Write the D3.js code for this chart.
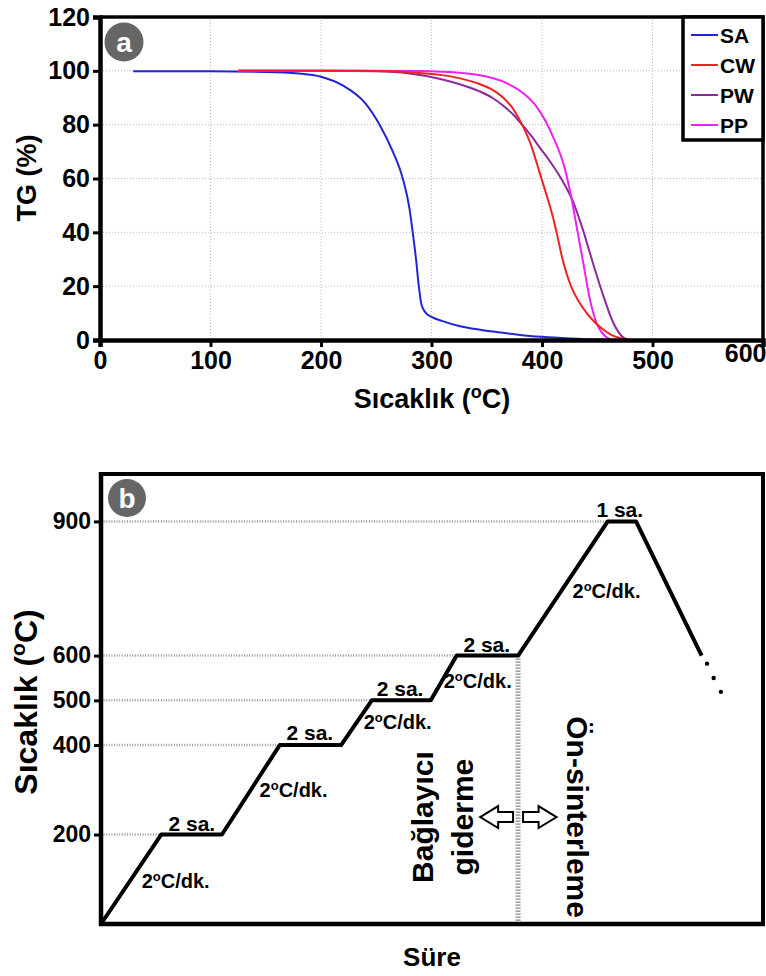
<!DOCTYPE html>
<html><head><meta charset="utf-8">
<script src="https://cdn.jsdelivr.net/npm/d3@7"></script>
<style>body{margin:0;background:#fff}svg{display:block}text{font-family:"Liberation Sans",Arial,sans-serif;font-weight:bold}</style>
</head><body>
<script>
// ---------- DATA: panel a (TG curves) ----------
const seriesNames = ["SA","CW","PW","PP"];
const seriesColors = ["#2323d8","#ee2222","#8a2a9c","#ee22ee"];
const saData = [[30,99.8],[100,99.8],[150,99.6],[180,99],[200,97.8],[220,94.5],[240,88],[253,80],[265,70],[274,60],[280,49],[283,40],[286,30],[288.5,20],[291,13],[295,10],[300,8.6],[310,7],[325,5.2],[344,3.8],[360,2.9],[380,1.9],[400,1.2],[425,0.6],[450,0.2],[490,0]];
const cwData = [[125,100],[200,100],[235,100],[260,99.8],[285,99.3],[308,98.5],[325,97.3],[344,95],[355,93],[365,90],[375,85.2],[382,80],[390,72.5],[398,62],[404,54],[410,45.5],[414,38.5],[418,31],[422,25],[427,19.3],[433,14.5],[440,10.3],[448,6.5],[455.7,3.8],[463,1.8],[472,0.6],[480,0]];
const pwData = [[125,100],[200,100],[250,99.8],[280,99],[308,97],[325,95.1],[344,92.3],[355,90],[365,87],[375,83.3],[382,80],[390,76],[398,71.5],[407,66.5],[418,59.5],[428,51.5],[437,41],[446,28.7],[455.5,16.4],[464.5,6.4],[472,1.5],[478,0]];
const ppData = [[125,100],[200,100],[250,100],[290,99.9],[308,99.7],[340,98.6],[368,95.4],[385,91],[395,86.7],[410,75.5],[421,63.2],[427,52],[431.4,42],[437.4,28.5],[443.4,15],[449.5,6.2],[457,1.5],[464.5,0],[480,-0.4],[600,-0.4]];
const tgXTicks = [0,100,200,300,400,500,600];
const tgYTicks = [0,20,40,60,80,100,120];

// ---------- DATA: panel b (sintering profile) ----------
const profileTime = [0,100,201,297,399,450,548,591,693,842,889,998];
const profileTemp = [0,200,200,400,400,500,500,600,600,900,900,600];
const tailTime = [1007,1018,1030];
const tailTemp = [582,550,519];
const profYTicks = [200,400,500,600,900];
const dwellLabels = ["2 sa.","2 sa.","2 sa.","2 sa.","1 sa."];

const W = 766, H = 976;
const svg = d3.select("body").append("svg").attr("width",W).attr("height",H);

// =================== PANEL A ===================
const xA = d3.scaleLinear([0,600],[100,763]);
const yA = d3.scaleLinear([0,120],[340,17]);

const gA = svg.append("g");
gA.selectAll("line.vg").data(tgXTicks.filter(d=>d>0&&d<600)).join("line")
  .attr("x1",d=>xA(d)).attr("x2",d=>xA(d)).attr("y1",yA(120)).attr("y2",yA(0))
  .attr("stroke","#bbb").attr("stroke-width",1).attr("stroke-dasharray","1,2");
gA.selectAll("line.hg").data(tgYTicks.filter(d=>d>0&&d<120)).join("line")
  .attr("x1",xA(0)).attr("x2",xA(600)).attr("y1",d=>yA(d)).attr("y2",d=>yA(d))
  .attr("stroke","#bbb").attr("stroke-width",1).attr("stroke-dasharray","1,2");

const lineA = d3.line().x(d=>xA(d[0])).y(d=>yA(d[1])).curve(d3.curveMonotoneX);
const allSeries = [saData,cwData,pwData,ppData];
[0,2,3,1].forEach(i=>{
  svg.append("path").datum(allSeries[i]).attr("d",lineA)
    .attr("fill","none").attr("stroke",seriesColors[i]).attr("stroke-width",2);
});

svg.append("line").attr("x1",xA(0)).attr("x2",xA(600)+1.5).attr("y1",yA(120)).attr("y2",yA(120)).attr("stroke","#000").attr("stroke-width",3.5);
svg.append("line").attr("x1",xA(600)).attr("x2",xA(600)).attr("y1",yA(120)).attr("y2",yA(0)).attr("stroke","#000").attr("stroke-width",3.5);

const axYA = svg.append("g").attr("transform",`translate(${xA(0)},0)`)
  .call(d3.axisLeft(yA).tickValues(tgYTicks).tickSize(7).tickPadding(3));
const axXA = svg.append("g").attr("transform",`translate(0,${yA(0)})`)
  .call(d3.axisBottom(xA).tickValues(tgXTicks).tickSize(7).tickPadding(4));
[axYA,axXA].forEach(a=>{
  a.select(".domain").attr("stroke","#000").attr("stroke-width",4.5);
  a.selectAll(".tick line").attr("stroke","#000").attr("stroke-width",3);
  a.selectAll(".tick text").attr("fill","#000").style("font-size","25px").style("font-family","'Liberation Sans',Arial,sans-serif").style("font-weight","bold");
});
axXA.selectAll(".tick text").filter(d=>d===600).attr("text-anchor","end").attr("x",3).attr("dy","0.45em");

const lg = svg.append("g");
lg.append("rect").attr("x",683).attr("y",yA(120)).attr("width",xA(600)-683).attr("height",123)
  .attr("fill","#fff").attr("stroke","#000").attr("stroke-width",3.5);
seriesNames.forEach((n,i)=>{
  const yy = 35 + i*30;
  lg.append("line").attr("x1",691).attr("x2",718).attr("y1",yy).attr("y2",yy).attr("stroke",seriesColors[i]).attr("stroke-width",2);
  lg.append("text").attr("x",720).attr("y",yy).attr("dy","0.36em").style("font-size","21px").attr("fill","#000").text(n);
});

svg.append("circle").attr("cx",124).attr("cy",42).attr("r",19.5).attr("fill","#666");
svg.append("text").attr("x",124).attr("y",42).attr("dy","0.36em").attr("text-anchor","middle").attr("fill","#fff").style("font-size","28px").text("a");

svg.append("text").attr("transform","translate(36,178) rotate(-90)").attr("text-anchor","middle").style("font-size","27px").text("TG (%)");
const xtA = svg.append("text").attr("x",432).attr("y",408).attr("text-anchor","middle").style("font-size","27px");
xtA.append("tspan").text("Sıcaklık (");
xtA.append("tspan").attr("dy",-10).style("font-size","18px").text("o");
xtA.append("tspan").attr("dy",10).text("C)");

// =================== PANEL B ===================
const xB = d3.scaleLinear([0,1100],[101,763]);
const yB = d3.scaleLinear([0,1006],[924,474]);

profYTicks.forEach(v=>{
  const idx = profileTemp.indexOf(v);
  svg.append("line").attr("x1",xB(0)).attr("x2",xB(profileTime[idx])).attr("y1",yB(v)).attr("y2",yB(v))
    .attr("stroke","#999").attr("stroke-width",2.5).attr("stroke-dasharray","1,1.6");
});
svg.append("line").attr("x1",xB(profileTime[8])).attr("x2",xB(profileTime[8])).attr("y1",yB(600)).attr("y2",yB(0))
  .attr("stroke","#888").attr("stroke-width",5).attr("stroke-dasharray","1.2,1.8");

const profile = profileTime.map((t,i)=>[t,profileTemp[i]]);
svg.append("path").datum(profile).attr("d",d3.line().x(d=>xB(d[0])).y(d=>yB(d[1])))
  .attr("fill","none").attr("stroke","#000").attr("stroke-width",4).attr("stroke-linejoin","round");
svg.selectAll("circle.tail").data(tailTime.map((t,i)=>[t,tailTemp[i]])).join("circle")
  .attr("cx",d=>xB(d[0])).attr("cy",d=>yB(d[1])).attr("r",2.2).attr("fill","#000");

svg.append("line").attr("x1",xB(0)).attr("x2",xB(1100)+2).attr("y1",474).attr("y2",474).attr("stroke","#000").attr("stroke-width",4);
svg.append("line").attr("x1",xB(1100)).attr("x2",xB(1100)).attr("y1",474).attr("y2",yB(0)).attr("stroke","#000").attr("stroke-width",4);
svg.append("line").attr("x1",xB(0)-2).attr("x2",xB(1100)+2).attr("y1",yB(0)).attr("y2",yB(0)).attr("stroke","#000").attr("stroke-width",4.5);
const axYB = svg.append("g").attr("transform",`translate(${xB(0)},0)`)
  .call(d3.axisLeft(yB).tickValues(profYTicks).tickSize(7).tickPadding(3));
axYB.select(".domain").attr("d",`M0,472V${yB(0)+2}`).attr("stroke","#000").attr("stroke-width",4.5);
axYB.selectAll(".tick line").attr("stroke","#000").attr("stroke-width",3);
axYB.selectAll(".tick text").attr("fill","#000").style("font-size","23px").style("font-family","'Liberation Sans',Arial,sans-serif").style("font-weight","bold");

svg.append("circle").attr("cx",127).attr("cy",498).attr("r",19).attr("fill","#666");
svg.append("text").attr("x",127).attr("y",498).attr("dy","0.36em").attr("text-anchor","middle").attr("fill","#fff").style("font-size","28px").text("b");

const dwellPos = [[151,208],[347,412],[497,510],[641,608],[862,910]];
dwellLabels.forEach((s,i)=>{
  svg.append("text").attr("x",xB(dwellPos[i][0])).attr("y",yB(dwellPos[i][1])).attr("text-anchor","middle").style("font-size","21px").text(s);
});
const rampPos = [[124,80],[320,284],[493,436],[626,528],[840,729]];
rampPos.forEach(p=>{
  const t = svg.append("text").attr("x",xB(p[0])).attr("y",yB(p[1])).attr("text-anchor","middle").style("font-size","20px");
  t.append("tspan").text("2");
  t.append("tspan").attr("dy",-7).style("font-size","13px").text("o");
  t.append("tspan").attr("dy",7).text("C/dk.");
});

const ay = yB(239);
const lx = xB(630), rx = xB(757), cx = xB(profileTime[8]);
svg.append("path").attr("d",`M${lx},${ay} L${lx+18},${ay-11} L${lx+18},${ay-5} L${cx-5},${ay-5} L${cx-5},${ay+5} L${lx+18},${ay+5} L${lx+18},${ay+11} Z`)
  .attr("fill","#fff").attr("stroke","#000").attr("stroke-width",2);
svg.append("path").attr("d",`M${rx},${ay} L${rx-18},${ay-11} L${rx-18},${ay-5} L${cx+5},${ay-5} L${cx+5},${ay+5} L${rx-18},${ay+5} L${rx-18},${ay+11} Z`)
  .attr("fill","#fff").attr("stroke","#000").attr("stroke-width",2);

svg.append("text").attr("transform",`translate(${xB(535)},${ay}) rotate(-90)`).attr("text-anchor","middle").attr("dy","0.35em").style("font-size","30px").text("Bağlayıcı");
svg.append("text").attr("transform",`translate(${xB(600)},${ay}) rotate(-90)`).attr("text-anchor","middle").attr("dy","0.35em").style("font-size","30px").text("giderme");
svg.append("text").attr("transform",`translate(${xB(791)},${ay}) rotate(90)`).attr("text-anchor","middle").attr("dy","0.35em").style("font-size","30px").text("Ön-sinterleme");

const ytB = svg.append("text").attr("transform","translate(37,702) rotate(-90)").attr("text-anchor","middle").style("font-size","32px");
ytB.append("tspan").text("Sıcaklık (");
ytB.append("tspan").attr("dy",-12).style("font-size","21px").text("o");
ytB.append("tspan").attr("dy",12).text("C)");
svg.append("text").attr("x",432).attr("y",966).attr("text-anchor","middle").style("font-size","26px").text("Süre");
</script>
</body></html>
